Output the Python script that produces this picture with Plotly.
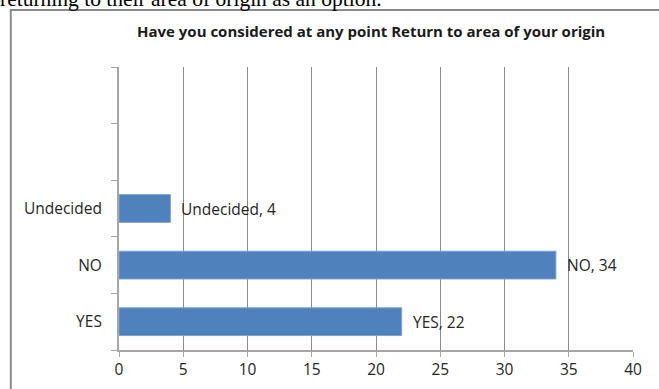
import plotly.graph_objects as go

# Survey answers and counts (bottom to top)
answers = ["YES", "NO", "Undecided"]
counts = [22, 34, 4]
# empty slots above the answers
blank_slots = [" ", "  "]
category_order = answers + blank_slots

x_ticks = [0, 5, 10, 15, 20, 25, 30, 35, 40]

title_text = "Have you considered at any point Return to area of your origin"
page_text = "returning to their area of origin as an option."

BAR_BLUE = "#4F81BD"
GRID = "#8C8C8C"
AXIS = "#A6A6A6"
TEXT = "#262626"
FONT = "Open Sans"

fig = go.Figure()
fig.add_trace(go.Bar(
    y=answers,
    x=counts,
    orientation="h",
    marker=dict(color=BAR_BLUE, line=dict(color="#7EA1CF", width=1)),
    hoverinfo="x+y",
    showlegend=False,
))

# data labels "Category, value" to the right of each bar
for a, c in zip(answers, counts):
    fig.add_annotation(
        x=c, y=a, xref="x", yref="y",
        text=f"{a}, {c}",
        showarrow=False, xanchor="left", yanchor="middle",
        xshift=9,
        font=dict(family=FONT, size=15.5, color=TEXT),
    )

# chart title inside the chart frame
fig.add_annotation(
    x=0.49, y=1.127, xref="paper", yref="paper",
    text=f"<b>{title_text}</b>", showarrow=False,
    xanchor="center", yanchor="middle",
    font=dict(family=FONT, size=15, color="#1a1a1a"),
)

# running text of the page above the chart (cut off at the top)
fig.add_annotation(
    x=-0.236, y=1.19, xref="paper", yref="paper",
    text=page_text, showarrow=False,
    xanchor="left", yanchor="bottom",
    font=dict(family="Liberation Serif", size=21.5, color="#000000"),
)

# chart frame
fig.add_shape(
    type="rect", xref="paper", yref="paper",
    x0=-0.2105, x1=1.3, y0=-0.3, y1=1.2014,
    line=dict(color="#8A8A8A", width=2),
    fillcolor="rgba(0,0,0,0)", layer="below",
)

fig.update_layout(
    width=659, height=389,
    margin=dict(l=119, r=26, t=67, b=39),
    paper_bgcolor="white", plot_bgcolor="white",
    bargap=0.51,
    xaxis=dict(
        range=[0, 40], tickvals=x_ticks,
        showgrid=True, gridcolor=GRID, gridwidth=1,
        zeroline=False, automargin=False,
        showline=True, linecolor=AXIS, linewidth=2,
        ticks="outside", ticklen=5, tickcolor=AXIS, tickwidth=1,
        tickfont=dict(family=FONT, size=15.5, color=TEXT),
        ticklabelstandoff=-1,
        fixedrange=True,
    ),
    yaxis=dict(
        type="category", categoryorder="array", categoryarray=category_order,
        range=[-0.5, 4.5],
        tickson="boundaries",
        showgrid=False, zeroline=False, automargin=False,
        showline=True, linecolor=AXIS, linewidth=2,
        ticks="outside", ticklen=6, tickcolor=AXIS, tickwidth=1,
        tickfont=dict(family=FONT, size=15.5, color=TEXT),
        ticklabelstandoff=12,
        fixedrange=True,
    ),
)

fig.write_html("out.html")
